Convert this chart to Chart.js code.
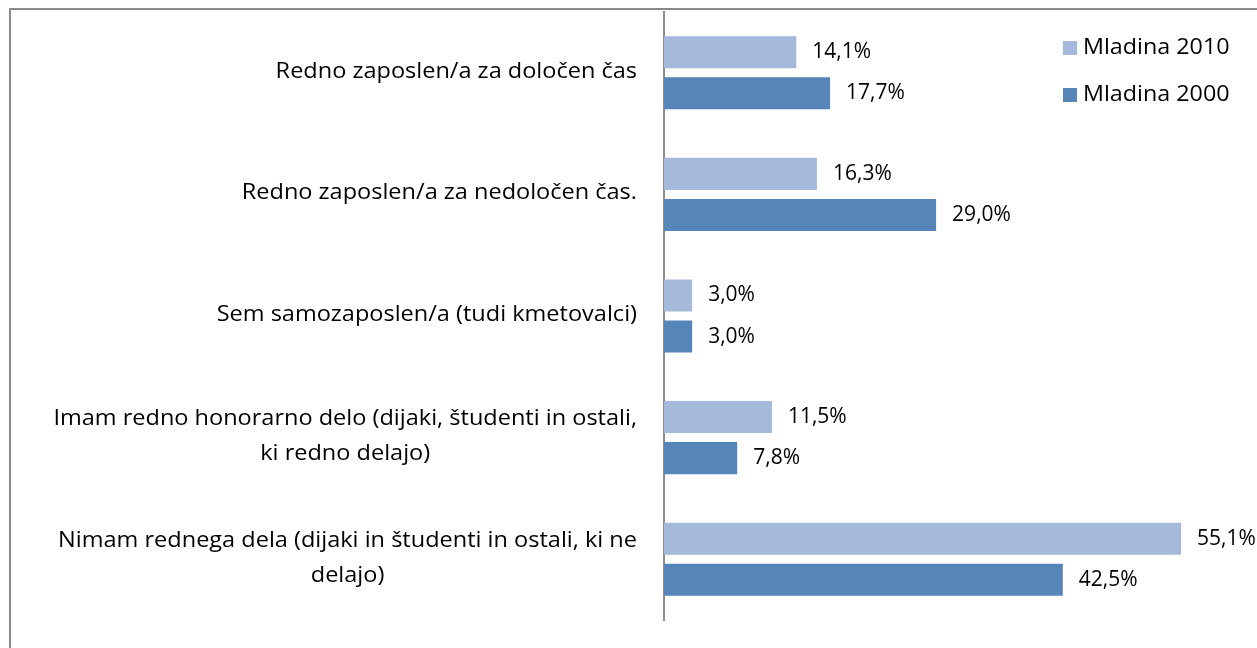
<!DOCTYPE html>
<html>
<head>
<meta charset="utf-8">
<script src="https://cdn.jsdelivr.net/npm/chart.js@4.4.1/dist/chart.umd.min.js"></script>
<style>
  html, body { margin: 0; padding: 0; background: #fff; overflow: hidden; }
  #wrap { position: relative; width: 1257px; height: 648px; overflow: hidden; }
  #frame { position: absolute; left: 9px; top: 8px; width: 1400px; height: 800px;
           border: 2px solid #8a8a8a; box-sizing: border-box; }
  #chart { position: absolute; left: 0; top: 0; }
</style>
</head>
<body>
<div id="wrap">
  <div id="frame"></div>
  <canvas id="chart" width="1257" height="648"></canvas>
</div>
<script>
/* Categories (multi-line labels are split into lines) */
const categories = [
    ['Redno zaposlen/a za določen čas'],
    ['Redno zaposlen/a za nedoločen čas.'],
    ['Sem samozaposlen/a (tudi kmetovalci)'],
    ['Imam redno honorarno delo (dijaki, študenti in ostali,', 'ki redno delajo)'],
    ['Nimam rednega dela (dijaki in študenti in ostali, ki ne', 'delajo)']
];
const seriesNames = ['Mladina 2010', 'Mladina 2000'];
const mladina2010 = [14.1, 16.3, 3.0, 11.5, 55.1];
const mladina2000 = [17.7, 29.0, 3.0, 7.8, 42.5];
const seriesColors = ['#A5B9DA', '#5685B8'];

const FONT = '21px "Open Sans", "Noto Sans", sans-serif';
const TEXT_COLOR = '#000';

/* fillText with a horizontal stretch, anchored at (x, y) */
function stretchedText(ctx, text, x, y, sx) {
    ctx.save();
    ctx.translate(x, y);
    ctx.scale(sx, 1);
    ctx.fillText(text, 0, 0);
    ctx.restore();
}

/* Draws category labels: each block right-aligned, its lines centred */
const categoryLabels = {
    id: 'categoryLabels',
    afterDraw(chart) {
        const ctx = chart.ctx;
        const scale = chart.scales.y;
        const lineHeight = 35;
        const sx = 1.12;
        ctx.save();
        ctx.font = FONT;
        ctx.fillStyle = TEXT_COLOR;
        ctx.textAlign = 'center';
        ctx.textBaseline = 'middle';
        chart.data.labels.forEach(function(lines, i) {
            var y = scale.getPixelForTick(i);
            var widest = sx * Math.max.apply(null, lines.map(function(l) { return ctx.measureText(l).width; }));
            var cx = scale.right - 27 - widest / 2;
            var top = y - 1 - (lines.length - 1) * lineHeight / 2;
            lines.forEach(function(line, j) {
                stretchedText(ctx, line, cx, top + j * lineHeight, sx);
            });
        });
        ctx.restore();
    }
};

/* Value labels to the right of each bar */
const valueLabels = {
    id: 'valueLabels',
    afterDatasetsDraw(chart) {
        const ctx = chart.ctx;
        ctx.save();
        ctx.font = FONT;
        ctx.fillStyle = TEXT_COLOR;
        ctx.textAlign = 'left';
        ctx.textBaseline = 'middle';
        chart.data.datasets.forEach(function(ds, d) {
            chart.getDatasetMeta(d).data.forEach(function(bar, i) {
                var txt = ds.data[i].toFixed(1).replace('.', ',') + '%';
                ctx.fillText(txt, bar.x + 16, bar.y);
            });
        });
        ctx.restore();
    }
};

/* Legend in the upper right corner, drawn over the plot */
const cornerLegend = {
    id: 'cornerLegend',
    afterDraw(chart) {
        const ctx = chart.ctx;
        ctx.save();
        ctx.font = FONT;
        ctx.textAlign = 'left';
        ctx.textBaseline = 'middle';
        chart.data.datasets.forEach(function(ds, d) {
            var y = 48 + d * 47;
            ctx.fillStyle = ds.backgroundColor;
            ctx.fillRect(1063, y - 7, 14, 14);
            ctx.fillStyle = TEXT_COLOR;
            stretchedText(ctx, ds.label, 1083, y, 1.11);
        });
        ctx.restore();
    }
};

const chartData = {
    labels: categories,
    datasets: [
        { label: seriesNames[0], data: mladina2010, backgroundColor: seriesColors[0] },
        { label: seriesNames[1], data: mladina2000, backgroundColor: seriesColors[1] }
    ]
};

new Chart(document.getElementById('chart'), {
    type: 'bar',
    data: chartData,
    options: {
        indexAxis: 'y',
        responsive: false,
        animation: false,
        devicePixelRatio: 1,
        barPercentage: 0.78,
        categoryPercentage: 0.675,
        layout: { padding: { top: 12, bottom: 28, right: 30, left: 0 } },
        plugins: {
            legend: { display: false },
            tooltip: { enabled: false }
        },
        scales: {
            x: { display: false, min: 0, max: 60 },
            y: {
                grid: { display: false },
                border: { display: true, color: '#8c8c8c', width: 2 },
                ticks: { display: false },
                afterFit: function(scale) { scale.width = 664; }
            }
        }
    },
    plugins: [categoryLabels, valueLabels, cornerLegend]
});
</script>
</body>
</html>
